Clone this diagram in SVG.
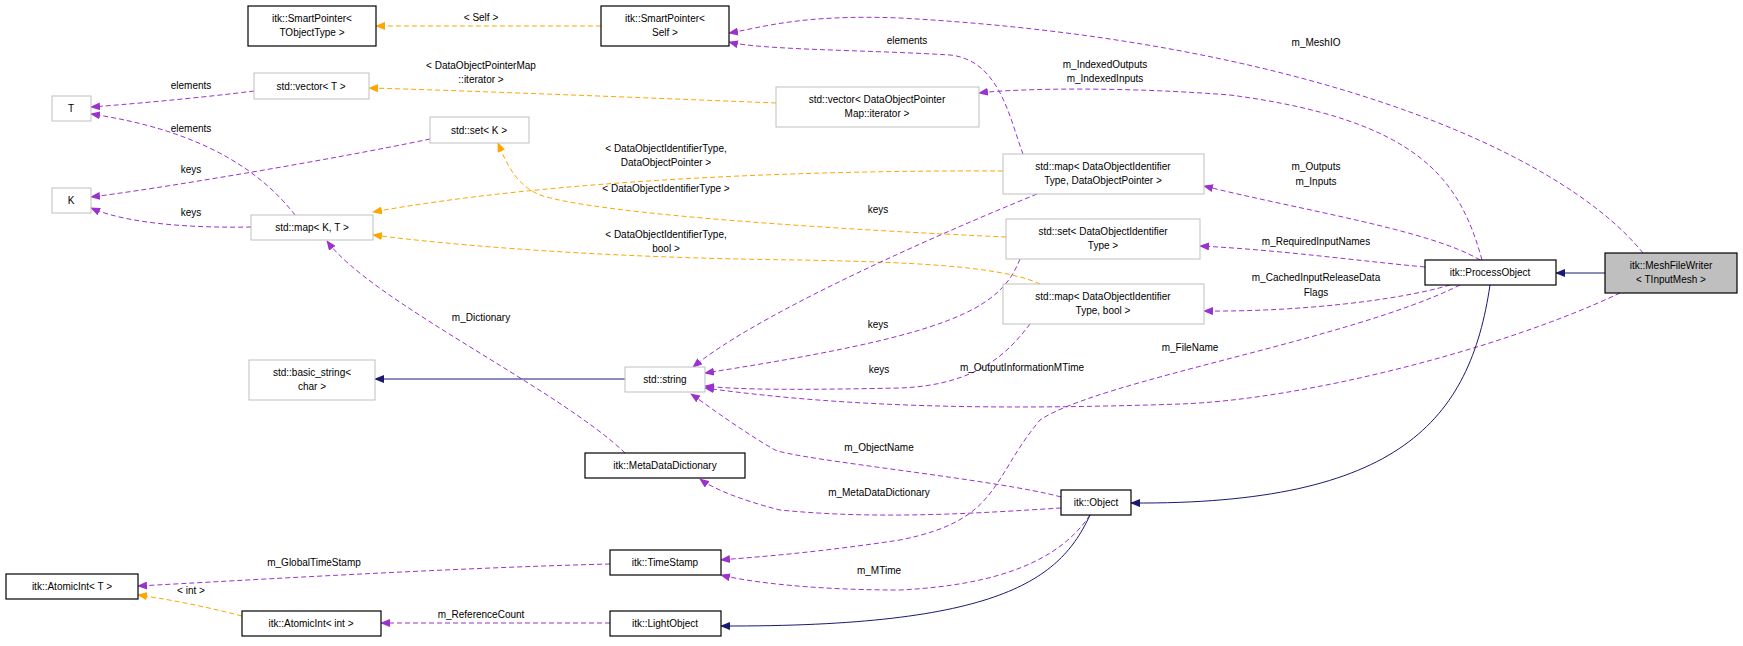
<svg xmlns="http://www.w3.org/2000/svg" width="1743" height="646" viewBox="0 0 1743 646">
<defs>
<marker id="ap" markerWidth="10" markerHeight="8" refX="9" refY="4" orient="auto" markerUnits="userSpaceOnUse"><path d="M0,0 L10,4 L0,8 z" fill="#9a32cd"/></marker>
<marker id="ao" markerWidth="10" markerHeight="8" refX="9" refY="4" orient="auto" markerUnits="userSpaceOnUse"><path d="M0,0 L10,4 L0,8 z" fill="#ffa500"/></marker>
<marker id="an" markerWidth="10" markerHeight="8" refX="9" refY="4" orient="auto" markerUnits="userSpaceOnUse"><path d="M0,0 L10,4 L0,8 z" fill="#191970"/></marker>
</defs>
<style>
text{font-family:"Liberation Sans",Arial,sans-serif;font-size:10px;fill:#000;text-anchor:middle}
.b rect{fill:#fff;stroke:#000;stroke-width:1.2}
.g rect{fill:#fff;stroke:#bfbfbf;stroke-width:1}
.m rect{fill:#bfbfbf;stroke:#000;stroke-width:1.2}
.p{fill:none;stroke:#9a32cd;stroke-dasharray:5,3;marker-end:url(#ap)}
.o{fill:none;stroke:#ffa500;stroke-dasharray:5,3;marker-end:url(#ao)}
.n{fill:none;stroke:#191970;marker-end:url(#an)}
</style>
<g id="connectors">
<path class="o" d="M601,26 L376,26"/>
<path class="p" d="M1643,253 C1560,150 1300,40 900,18 C800,14 760,28 729,33"/>
<path class="p" d="M1023,154 C1010,120 1000,60 950,55 C870,50 760,50 729,42"/>
<path class="p" d="M1482,260 C1460,180 1420,120 1230,95 C1100,85 1000,90 979,93"/>
<path class="o" d="M776,103 C650,98 450,90 369,88"/>
<path class="p" d="M254,91 C200,98 120,105 91,107"/>
<path class="p" d="M295,215 C260,170 200,130 91,114"/>
<path class="p" d="M430,139 C330,160 150,190 91,197"/>
<path class="p" d="M251,227 C200,228 130,225 91,208"/>
<path class="o" d="M1003,171 C800,170 550,180 373,212"/>
<path class="o" d="M1006,237 C850,230 600,215 540,195 C515,185 505,160 498,143"/>
<path class="o" d="M1040,284 C1000,265 900,262 800,260 C600,258 450,245 373,235"/>
<path class="p" d="M1037,194 C900,250 750,320 693,367"/>
<path class="p" d="M1020,259 C1000,310 950,335 705,373"/>
<path class="p" d="M1030,324 C1010,350 980,385 900,388 C800,390 740,390 705,386"/>
<path class="p" d="M1620,293 C1500,350 1300,400 1180,404 C1000,410 850,408 705,388"/>
<path class="p" d="M1480,260 C1430,230 1300,210 1204,186"/>
<path class="p" d="M1425,267 C1350,260 1280,250 1200,246"/>
<path class="p" d="M1450,285 C1400,300 1300,312 1204,311"/>
<path class="p" d="M1460,285 C1350,340 1100,380 1040,420 C990,480 1000,520 900,540 C800,555 740,558 721,560"/>
<path class="p" d="M1061,497 C1000,480 800,460 775,450 C740,430 700,400 691,394"/>
<path class="p" d="M1061,508 C980,513 880,520 780,510 C740,500 712,488 700,479"/>
<path class="p" d="M1090,515 C1060,560 1000,585 900,590 C800,590 740,580 721,575"/>
<path class="p" d="M610,564 C450,568 250,580 138,586"/>
<path class="o" d="M242,616 C200,605 160,598 138,595"/>
<path class="p" d="M610,623 L381,623"/>
<path class="p" d="M625,453 C560,390 370,300 327,241"/>
<path class="n" d="M625,379 L375,379"/>
<path class="n" d="M1490,285 C1470,420 1400,505 1131,503"/>
<path class="n" d="M1090,515 C1060,580 1000,627 721,626"/>
<path class="n" d="M1605,273 L1556,273"/>
<text x="481" y="21">&lt; Self &gt;</text>
<text x="907" y="44">elements</text>
<text x="1316" y="46">m_MeshIO</text>
<text x="1105" y="68">m_IndexedOutputs</text>
<text x="1105" y="82">m_IndexedInputs</text>
<text x="481" y="69">&lt; DataObjectPointerMap</text>
<text x="481" y="83">::iterator &gt;</text>
<text x="191" y="89">elements</text>
<text x="191" y="132">elements</text>
<text x="191" y="173">keys</text>
<text x="191" y="216">keys</text>
<text x="666" y="152">&lt; DataObjectIdentifierType,</text>
<text x="666" y="166">DataObjectPointer &gt;</text>
<text x="666" y="192">&lt; DataObjectIdentifierType &gt;</text>
<text x="666" y="238">&lt; DataObjectIdentifierType,</text>
<text x="666" y="252">bool &gt;</text>
<text x="481" y="321">m_Dictionary</text>
<text x="878" y="213">keys</text>
<text x="878" y="328">keys</text>
<text x="879" y="373">keys</text>
<text x="1316" y="170">m_Outputs</text>
<text x="1316" y="185">m_Inputs</text>
<text x="1316" y="245">m_RequiredInputNames</text>
<text x="1316" y="281">m_CachedInputReleaseData</text>
<text x="1316" y="296">Flags</text>
<text x="1190" y="351">m_FileName</text>
<text x="1022" y="371">m_OutputInformationMTime</text>
<text x="879" y="451">m_ObjectName</text>
<text x="879" y="496">m_MetaDataDictionary</text>
<text x="314" y="566">m_GlobalTimeStamp</text>
<text x="879" y="574">m_MTime</text>
<text x="191" y="594">&lt; int &gt;</text>
<text x="481" y="618">m_ReferenceCount</text>
</g>
<g id="n1" class="b"><rect x="248" y="6" width="128" height="40"/><text x="312" y="22">itk::SmartPointer&lt;</text><text x="312" y="36">TObjectType &gt;</text></g>
<g id="n2" class="b"><rect x="601" y="6" width="128" height="40"/><text x="665" y="22">itk::SmartPointer&lt;</text><text x="665" y="36">Self &gt;</text></g>
<g id="n3" class="g"><rect x="254" y="73" width="115" height="26"/><text x="311" y="90">std::vector&lt; T &gt;</text></g>
<g id="n4" class="g"><rect x="52" y="96" width="39" height="25"/><text x="71" y="112">T</text></g>
<g id="n5" class="g"><rect x="430" y="117" width="99" height="26"/><text x="479" y="134">std::set&lt; K &gt;</text></g>
<g id="n6" class="g"><rect x="52" y="188" width="39" height="25"/><text x="71" y="204">K</text></g>
<g id="n7" class="g"><rect x="251" y="215" width="122" height="25"/><text x="312" y="231">std::map&lt; K, T &gt;</text></g>
<g id="n8" class="g"><rect x="776" y="87" width="203" height="40"/><text x="877" y="103">std::vector&lt; DataObjectPointer</text><text x="877" y="117">Map::iterator &gt;</text></g>
<g id="n9" class="g"><rect x="1003" y="154" width="201" height="40"/><text x="1103" y="170">std::map&lt; DataObjectIdentifier</text><text x="1103" y="184">Type, DataObjectPointer &gt;</text></g>
<g id="n10" class="g"><rect x="1006" y="219" width="194" height="40"/><text x="1103" y="235">std::set&lt; DataObjectIdentifier</text><text x="1103" y="249">Type &gt;</text></g>
<g id="n11" class="g"><rect x="1003" y="284" width="201" height="40"/><text x="1103" y="300">std::map&lt; DataObjectIdentifier</text><text x="1103" y="314">Type, bool &gt;</text></g>
<g id="n12" class="b"><rect x="1425" y="260" width="131" height="25"/><text x="1490" y="276">itk::ProcessObject</text></g>
<g id="n13" class="m"><rect x="1605" y="253" width="132" height="40"/><text x="1671" y="269">itk::MeshFileWriter</text><text x="1671" y="283">&lt; TInputMesh &gt;</text></g>
<g id="n14" class="g"><rect x="249" y="360" width="126" height="40"/><text x="312" y="376">std::basic_string&lt;</text><text x="312" y="390">char &gt;</text></g>
<g id="n15" class="g"><rect x="625" y="367" width="80" height="25"/><text x="665" y="383">std::string</text></g>
<g id="n16" class="b"><rect x="585" y="453" width="160" height="25"/><text x="665" y="469">itk::MetaDataDictionary</text></g>
<g id="n17" class="b"><rect x="1061" y="490" width="70" height="25"/><text x="1096" y="506">itk::Object</text></g>
<g id="n18" class="b"><rect x="610" y="550" width="111" height="25"/><text x="665" y="566">itk::TimeStamp</text></g>
<g id="n19" class="b"><rect x="6" y="574" width="132" height="25"/><text x="72" y="590">itk::AtomicInt&lt; T &gt;</text></g>
<g id="n20" class="b"><rect x="242" y="611" width="139" height="25"/><text x="311" y="627">itk::AtomicInt&lt; int &gt;</text></g>
<g id="n21" class="b"><rect x="610" y="611" width="111" height="25"/><text x="665" y="627">itk::LightObject</text></g>
</svg>
